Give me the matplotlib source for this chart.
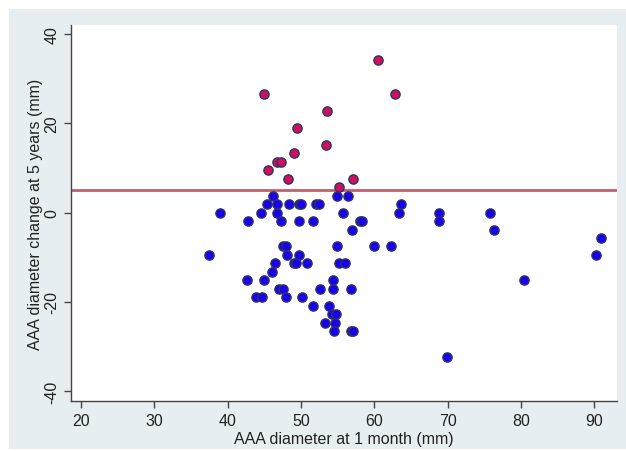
import numpy as np
import matplotlib.pyplot as plt
from matplotlib.patches import Rectangle

# diametro a 1 mes (x) e mudanca aos 5 anos (y) - crescimento > 5 mm
x_grow = [60.5, 44.9, 62.9, 53.6, 49.5, 53.4, 49.1, 46.8, 47.3, 45.5, 48.2, 57.1, 55.2]
y_grow = [34.1, 26.5, 26.5, 22.8, 19.0, 15.2, 13.3, 11.4, 11.4, 9.5, 7.6, 7.6, 5.8]

# restantes doentes
x_rest = [46.2, 54.9, 56.4,
          45.4, 46.7, 48.4, 49.7, 50.0, 52.0, 52.5, 63.6,
          38.9, 44.5, 46.7, 55.7, 63.4, 68.8, 75.8,
          42.8, 47.3, 49.8, 51.7, 58.0, 58.4, 68.9,
          57.0, 76.3,
          91.0,
          47.5, 47.9, 54.9, 60.0, 62.3,
          37.5, 48.1, 49.8, 90.2,
          46.4, 49.0, 49.4, 50.9, 55.2, 56.0,
          46.0,
          42.6, 44.9, 54.4, 80.5,
          47.0, 47.6, 52.6, 54.4, 56.9,
          43.9, 44.7, 47.9, 50.1,
          51.6, 53.9,
          54.2, 54.8,
          53.3, 54.6,
          54.5, 56.9, 57.1,
          69.9]
y_rest = [3.8, 3.8, 3.8,
          1.9, 1.9, 1.9, 1.9, 1.9, 1.9, 1.9, 1.9,
          0, 0, 0, 0, 0, 0, 0,
          -1.9, -1.9, -1.9, -1.9, -1.9, -1.9, -1.9,
          -3.8, -3.8,
          -5.7,
          -7.6, -7.6, -7.6, -7.6, -7.6,
          -9.5, -9.5, -9.5, -9.5,
          -11.4, -11.4, -11.4, -11.4, -11.4, -11.4,
          -13.3,
          -15.2, -15.2, -15.2, -15.2,
          -17.1, -17.1, -17.1, -17.1, -17.1,
          -19.0, -19.0, -19.0, -19.0,
          -20.9, -20.9,
          -22.8, -22.8,
          -24.7, -24.7,
          -26.6, -26.6, -26.6,
          -32.3]

threshold = 5

plt.rcParams['font.family'] = ['Liberation Sans', 'DejaVu Sans']
plt.rcParams['axes.unicode_minus'] = False

fig = plt.figure(figsize=(6.26, 4.52), dpi=100, facecolor='white')
fig.patches.append(Rectangle((9 / 626, 2 / 452), 1, 1 - 12 / 452, transform=fig.transFigure,
                             facecolor='#e7eef1', edgecolor='none', zorder=-1))
ax = fig.add_axes([71 / 626, 1 - 402 / 452, 546 / 626, 376 / 452])
ax.set_facecolor('white')

ax.axhline(threshold, color='#c0606f', lw=2, zorder=1)
ax.scatter(x_rest, y_rest, s=44, c='#1a00ee', edgecolors='#2c3563', linewidths=1, zorder=3)
ax.scatter(x_grow, y_grow, s=44, c='#d0105c', edgecolors='#2c3563', linewidths=1, zorder=3)

ax.set_xlim(18.64, 93.12)
ax.set_ylim(-42.2, 42.0)
ax.set_xticks([20, 30, 40, 50, 60, 70, 80, 90])
ax.set_yticks([-40, -20, 0, 20, 40])
ax.tick_params(axis='both', direction='out', length=5, width=1, color='#444444',
               labelsize=11.5, labelcolor='#222222')
for lab in ax.get_yticklabels():
    lab.set_rotation(90)
    lab.set_va('center')

for side in ['top', 'right']:
    ax.spines[side].set_visible(False)
for side in ['left', 'bottom']:
    ax.spines[side].set_color('#444444')
    ax.spines[side].set_linewidth(1)

ax.set_xlabel('AAA diameter at 1 month (mm)', fontsize=11.5, color='#222222', labelpad=2)
ax.set_ylabel('AAA diameter change at 5 years (mm)', fontsize=11.5, color='#222222', labelpad=1)

fig.savefig('out.png', dpi=100, facecolor=fig.get_facecolor())
